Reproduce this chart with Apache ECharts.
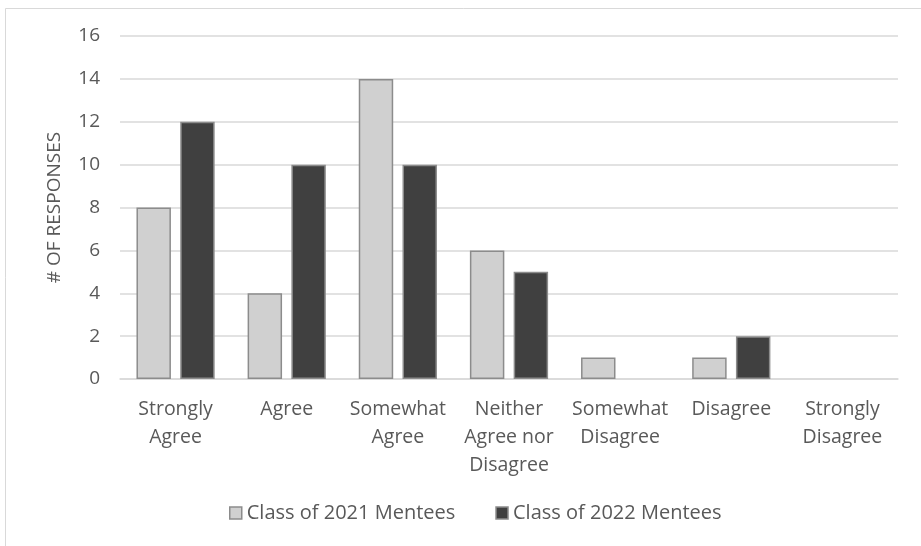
<!DOCTYPE html>
<html>
<head>
<meta charset="utf-8">
<script src="https://cdn.jsdelivr.net/npm/echarts@6/dist/echarts.min.js"></script>
<style>
  html, body { margin: 0; padding: 0; background: #fff; }
  #chart { width: 921px; height: 546px; }
</style>
</head>
<body>
<div id="chart"></div>
<script>
const categories = ['Strongly\nAgree', 'Agree', 'Somewhat\nAgree', 'Neither\nAgree nor\nDisagree', 'Somewhat\nDisagree', 'Disagree', 'Strongly\nDisagree']
const class2021 = [8, 4, 14, 6, 1, 1, 0]
const class2022 = [12, 10, 10, 5, 0, 2, 0]

const textColor = '#595959'
const font = '"Open Sans", sans-serif'

// zero-height bars have no visible outline in the original
function barData(values) {
  return values.map(v => v === 0 ? { value: v, itemStyle: { borderWidth: 0 } } : v)
}

const chart = echarts.init(document.getElementById('chart'))
chart.setOption({
  animation: false,
  backgroundColor: '#fff',
  textStyle: { fontFamily: font },
  graphic: [{
    type: 'rect',
    shape: { x: 5.5, y: 8.5, width: 930, height: 560 },
    style: { fill: 'none', stroke: '#d9d9d9', lineWidth: 1 },
    silent: true
  }],
  grid: { left: 120, right: 23, top: 36, bottom: 167 },
  legend: {
    bottom: 18,
    left: 224,
    itemWidth: 12,
    itemHeight: 12,
    itemGap: 40,
    itemStyle: { borderColor: '#8c8c8c', borderWidth: 1.5 },
    icon: 'rect',
    textStyle: { color: textColor, fontSize: 20, fontFamily: font },
    data: ['Class of 2021 Mentees', 'Class of 2022 Mentees']
  },
  xAxis: {
    type: 'category',
    data: categories,
    axisTick: { show: false },
    axisLine: { lineStyle: { color: '#d9d9d9', width: 1.5 } },
    axisLabel: { color: textColor, fontSize: 19.5, lineHeight: 28, margin: 16, interval: 0, fontFamily: font }
  },
  yAxis: {
    type: 'value',
    min: 0,
    max: 16,
    interval: 2,
    name: '# OF RESPONSES',
    nameLocation: 'middle',
    nameGap: 56,
    nameTextStyle: { color: textColor, fontSize: 19, fontFamily: font },
    axisLine: { show: false },
    axisTick: { show: false },
    splitLine: { lineStyle: { color: '#d9d9d9', width: 1.5 } },
    axisLabel: { color: textColor, fontSize: 19, margin: 20, fontFamily: font }
  },
  series: [
    {
      name: 'Class of 2021 Mentees',
      type: 'bar',
      data: barData(class2021),
      barWidth: '31%',
      barGap: '27%',
      itemStyle: { color: '#d0d0d0', borderColor: '#8c8c8c', borderWidth: 1.5 }
    },
    {
      name: 'Class of 2022 Mentees',
      type: 'bar',
      data: barData(class2022),
      barWidth: '31%',
      itemStyle: { color: '#404040', borderColor: '#8c8c8c', borderWidth: 1.5 }
    }
  ]
})
</script>
</body>
</html>
